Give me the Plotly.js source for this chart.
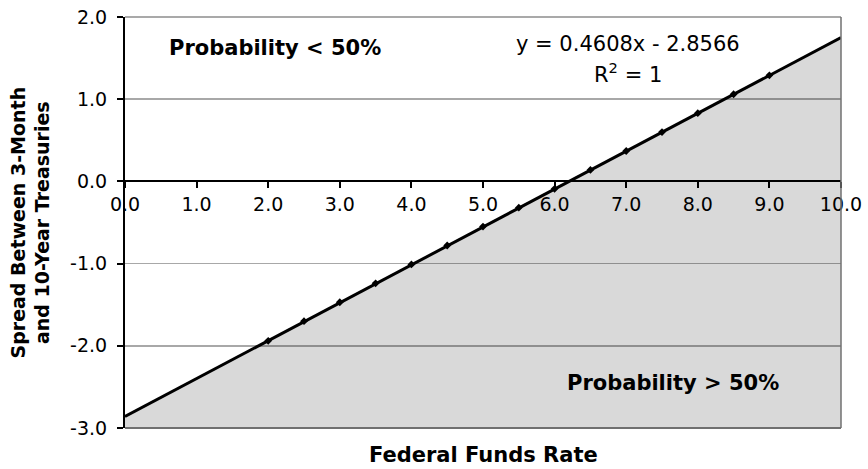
<!DOCTYPE html>
<html>
<head>
<meta charset="utf-8">
<script src="https://cdn.plot.ly/plotly-3.0.1.min.js"></script>
<style>html,body{margin:0;padding:0;background:#fff;}#chart{width:868px;height:469px;}</style>
</head>
<body>
<div id="chart"></div>
<script>
// Observed points (Federal Funds Rate vs. spread)
const fedFundsRate = [2.0, 2.5, 3.0, 3.5, 4.0, 4.5, 5.0, 5.5, 6.0, 6.5, 7.0, 7.5, 8.0, 8.5, 9.0];
const spread = [-1.94, -1.70, -1.47, -1.24, -1.01, -0.78, -0.55, -0.32, -0.09, 0.14, 0.37, 0.60, 0.83, 1.06, 1.29];
// Linear trendline drawn across the full axis
const trendX = [0.0, 10.0];
const trendY = [-2.86, 1.75];
const baseX = [0.0, 10.0];
const baseY = [-3.0, -3.0];
const xTicks = [0, 1, 2, 3, 4, 5, 6, 7, 8, 9, 10];
const xTickText = ['0.0', '1.0', '2.0', '3.0', '4.0', '5.0', '6.0', '7.0', '8.0', '9.0', '10.0'];
const yTicks = [-3, -2, -1, 0, 1, 2];
const yTickText = ['-3.0', '-2.0', '-1.0', '0.0', '1.0', '2.0'];

const tickFont = {family: 'DejaVu Sans, Verdana, sans-serif', size: 19, color: '#000'};

const traces = [
  {x: baseX, y: baseY, mode: 'lines', line: {width: 0, color: 'rgba(0,0,0,0)'}, hoverinfo: 'skip', showlegend: false},
  {x: trendX, y: trendY, mode: 'lines', fill: 'tonexty', fillcolor: 'rgba(0,0,0,0.15)',
   line: {color: '#000', width: 3}, showlegend: false},
  {x: fedFundsRate, y: spread, mode: 'markers', marker: {symbol: 'diamond', size: 6, color: '#000'}, showlegend: false}
];

const layout = {
  width: 868, height: 469,
  margin: {l: 125, r: 27, t: 17, b: 41},
  paper_bgcolor: '#fff', plot_bgcolor: '#fff',
  showlegend: false,
  xaxis: {
    range: [0, 10], tickvals: xTicks, ticktext: xTickText, tickfont: tickFont,
    anchor: 'free', position: 0.6,
    showline: true, linecolor: '#000', linewidth: 2,
    ticks: 'outside', ticklen: 6, tickwidth: 2, tickcolor: '#000',
    showgrid: false, zeroline: false, fixedrange: true
  },
  yaxis: {
    range: [-3, 2], tickvals: yTicks, ticktext: yTickText, tickfont: tickFont,
    showline: true, linecolor: '#000', linewidth: 2,
    ticks: 'outside', ticklen: 6, tickwidth: 2, tickcolor: '#000',
    ticklabelstandoff: 6,
    showgrid: true, gridcolor: '#a8a8a8', gridwidth: 1.5, zeroline: false,
    fixedrange: true
  },
  shapes: [
    {type: 'line', xref: 'paper', yref: 'paper', x0: 0, x1: 1, y0: 1, y1: 1, line: {color: '#8c8c8c', width: 1.5}},
    {type: 'line', xref: 'paper', yref: 'paper', x0: 1, x1: 1, y0: 0, y1: 1, line: {color: '#707070', width: 1.5}},
    {type: 'line', xref: 'paper', yref: 'paper', x0: 0, x1: 1, y0: 0, y1: 0, line: {color: '#707070', width: 2}}
  ],
  annotations: [
    {xref: 'paper', yref: 'paper', x: 0, y: 0.5, xanchor: 'center', yanchor: 'middle', xshift: -95, textangle: -90,
     text: '<b>Spread Between 3-Month<br>and 10-Year Treasuries</b>', showarrow: false,
     font: {family: 'DejaVu Sans, sans-serif', size: 19, color: '#000'}},
    {xref: 'x', yref: 'y', x: 2.1, y: 1.62, text: '<b>Probability &lt; 50%</b>', showarrow: false,
     font: {family: 'DejaVu Sans, sans-serif', size: 21, color: '#000'}},
    {xref: 'x', yref: 'y', x: 7.65, y: -2.45, text: '<b>Probability &gt; 50%</b>', showarrow: false,
     font: {family: 'DejaVu Sans, sans-serif', size: 21, color: '#000'}},
    {xref: 'x', yref: 'y', x: 7.02, y: 1.67, text: 'y = 0.4608x - 2.8566', showarrow: false,
     font: {family: 'DejaVu Sans, sans-serif', size: 21, color: '#000'}},
    {xref: 'x', yref: 'y', x: 7.02, y: 1.32, text: 'R<sup>2</sup> = 1', showarrow: false,
     font: {family: 'DejaVu Sans, sans-serif', size: 21, color: '#000'}},
    {xref: 'paper', yref: 'paper', x: 0.5, y: 0, yanchor: 'top', yshift: -13, text: '<b>Federal Funds Rate</b>', showarrow: false,
     font: {family: 'DejaVu Sans, sans-serif', size: 21, color: '#000'}}
  ]
};

Plotly.newPlot('chart', traces, layout, {displayModeBar: false, staticPlot: true});
</script>
</body>
</html>
